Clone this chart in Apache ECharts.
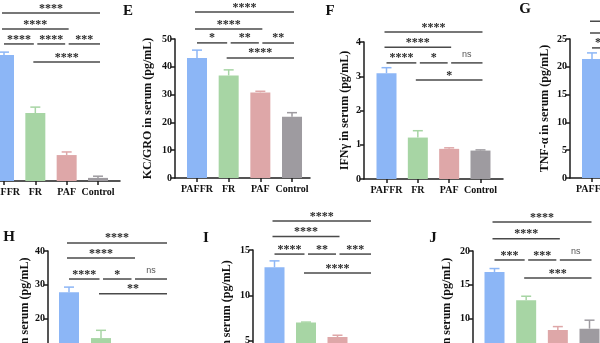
<!DOCTYPE html>
<html><head><meta charset="utf-8">
<script src="https://cdn.jsdelivr.net/npm/echarts@6/dist/echarts.min.js"></script>
<style>html,body{margin:0;padding:0;background:#fff}#c{width:600px;height:343px}</style>
</head><body><div id="c"></div>
<script>
// ---------- data ----------
const categories = ['PAFFR', 'FR', 'PAF', 'Control'];
const dMeans = [44.7, 24.1, 9.2, 1.1];
const dErrs  = [1.0, 2.1, 1.1, 0.6];
const eMeans = [43.2, 36.9, 30.8, 22.0];
const eErrs  = [2.8, 2.0, 0.4, 1.5];
const fMeans = [3.09, 1.21, 0.88, 0.83];
const fErrs  = [0.16, 0.20, 0.03, 0.02];
const gMeans = [21.4, 13.5, 9.0, 6.5];
const gErrs  = [1.1, 1.0, 0.8, 0.5];
const hMeans = [27.8, 14.2, 9.5, 6.0];
const hErrs  = [1.5, 2.3, 1.0, 0.8];
const iMeans = [13.1, 7.0, 5.4, 3.6];
const iErrs  = [0.7, 0.05, 0.2, 0.3];
const jMeans = [16.9, 12.7, 8.3, 8.5];
const jErrs  = [0.5, 0.6, 0.5, 1.25];
// comparisons: pairs of category indices, and the row each sits on (0 = top)
const bracketPairs = [[0, 3], [0, 2], [0, 1], [1, 2], [2, 3], [1, 3]];
const bracketRows  = [0, 1, 2, 2, 2, 3];
const dSig = ['****', '****', '****', '****', '***', '****'];
const eSig = ['****', '****', '*', '**', '**', '****'];
const fSig = ['****', '****', '****', '*', 'ns', '*'];
const gSig = ['****', '****', '****', '*', 'ns', '**'];
const hSig = ['****', '****', '****', '*', 'ns', '**'];
const iSig = ['****', '****', '****', '**', '***', '****'];
const jSig = ['****', '****', '***', '***', 'ns', '***'];
const yTitles = {
  D: 'IL-1β in serum (pg/mL)',
  E: 'KC/GRO in serum (pg/mL)',
  F: 'IFNγ in serum (pg/mL)',
  G: 'TNF-α in serum (pg/mL)',
  H: 'IL-1β in serum (pg/mL)',
  I: 'IL-6 in serum (pg/mL)',
  J: 'IL-10 in serum (pg/mL)'
};
const yMax = {D: 50, E: 50, F: 4, G: 25, H: 40, I: 15, J: 20};
const yStep = {D: 10, E: 10, F: 1, G: 5, H: 10, I: 5, J: 5};

// ---------- layout / style ----------
const colors = ['#8cb6f6', '#a7d5a4', '#dea7a8', '#9e9ba0'];
const SERIF = '"Liberation Serif", "Times New Roman", serif';
const layout = {
  D: {axisX: -30, axisEnd: 120, c0: 4, band: 31.33, top: 40, zero: 181, rows: [59.6, 53.9, 48.6, 42.2], gap: 20, letter: null},
  E: {axisX: 175, axisEnd: 310, c0: 197, band: 31.67, top: 39, zero: 178, rows: [59.7, 53.6, 48.6, 43.2], gap: 21, letter: [128, 11]},
  F: {axisX: 364, axisEnd: 503, c0: 386.5, band: 31.33, top: 42, zero: 179, rows: [4.29, 3.85, 3.39, 2.89], gap: 13, letter: [330, 11]},
  G: {axisX: 570, axisEnd: 705, c0: 592, band: 31.5, top: 39, zero: 178, rows: [28.2, 26.1, 23.4, 20.9], gap: 19, letter: [525, 9]},
  H: {axisX: 48, axisEnd: 178, c0: 69, band: 32, top: 251, zero: 386, rows: [42.4, 37.9, 31.7, 27.3], gap: 17, letter: [9, 237]},
  I: {axisX: 253, axisEnd: 382, c0: 274.5, band: 31.5, top: 250, zero: 386, rows: [18.2, 16.5, 14.55, 12.46], gap: 20, letter: [206, 238]},
  J: {axisX: 473, axisEnd: 602, c0: 494.5, band: 31.67, top: 251, zero: 386, rows: [24.3, 21.8, 18.67, 16.0], gap: 20, letter: [433, 238]}
};
const panelData = {
  D: [dMeans, dErrs, dSig], E: [eMeans, eErrs, eSig], F: [fMeans, fErrs, fSig],
  G: [gMeans, gErrs, gSig], H: [hMeans, hErrs, hSig], I: [iMeans, iErrs, iSig], J: [jMeans, jErrs, jSig]
};

const grid = [], xAxis = [], yAxis = [], series = [], graphic = [];
const AX = '#1c1c1c';
Object.keys(layout).forEach((key, p) => {
  const L = layout[key];
  const [means, errs, sig] = panelData[key];
  const h = L.zero - L.top;
  const gf = 2 * p, gb = 2 * p + 1;
  grid.push({left: L.axisX, top: L.top, width: L.axisEnd - L.axisX, height: h, containLabel: false, outerBoundsMode: 'none'});
  grid.push({left: L.c0 - L.band / 2, top: L.top, width: L.band * 4, height: h, containLabel: false, outerBoundsMode: 'none'});
  xAxis.push({gridIndex: gf, type: 'value', min: 0, max: 1,
    axisLine: {show: true, lineStyle: {color: AX, width: 1.5}},
    axisTick: {show: false}, axisLabel: {show: false}, splitLine: {show: false}});
  xAxis.push({gridIndex: gb, type: 'category', data: categories,
    axisLine: {show: false},
    axisTick: {show: true, alignWithLabel: true, length: 4, lineStyle: {color: AX, width: 1.5}},
    axisLabel: {fontFamily: SERIF, fontWeight: 'bold', fontSize: 10, color: '#111', margin: 6, interval: 0}});
  yAxis.push({gridIndex: gf, type: 'value', min: 0, max: yMax[key], interval: yStep[key],
    axisLine: {show: true, lineStyle: {color: AX, width: 1.5}},
    axisTick: {show: true, length: 4, lineStyle: {color: AX, width: 1.5}},
    axisLabel: {fontFamily: SERIF, fontWeight: 'bold', fontSize: 10, color: '#111', margin: 3},
    splitLine: {show: false},
    name: yTitles[key], nameLocation: 'middle', nameGap: L.gap,
    nameTextStyle: {fontFamily: SERIF, fontWeight: 'bold', fontSize: 12, color: '#111'}});
  yAxis.push({gridIndex: gb, type: 'value', min: 0, max: yMax[key], show: false});
  series.push({type: 'bar', xAxisIndex: gb, yAxisIndex: gb, barWidth: 20, silent: true,
    data: means.map((v, i) => ({value: v, itemStyle: {color: colors[i]}}))});
  series.push({type: 'custom', xAxisIndex: gb, yAxisIndex: gb, silent: true,
    data: means.map((v, i) => [i, v, errs[i]]), encode: {x: 0, y: 1},
    renderItem: (params, api) => {
      const i = api.value(0), v = api.value(1), e = api.value(2);
      const b = api.coord([i, v]), t = api.coord([i, v + e]);
      const st = {stroke: colors[i], lineWidth: 1.5};
      return {type: 'group', children: [
        {type: 'line', shape: {x1: b[0], y1: b[1], x2: t[0], y2: t[1]}, style: st},
        {type: 'line', shape: {x1: t[0] - 5, y1: t[1], x2: t[0] + 5, y2: t[1]}, style: st}
      ]};
    }});
  series.push({type: 'custom', xAxisIndex: gb, yAxisIndex: gb, silent: true, clip: false,
    data: bracketPairs.map((pr, k) => [pr[0], pr[1], L.rows[bracketRows[k]], k]), encode: {x: 0, y: 2},
    renderItem: (params, api) => {
      const i = api.value(0), j = api.value(1), lv = api.value(2), k = api.value(3);
      const a = api.coord([i, lv]), b = api.coord([j, lv]);
      let x1 = a[0] - 2, x2 = b[0] + 2;
      if (j - i === 1) { x1 = a[0] + (i === 0 ? 0 : 2); x2 = b[0] - (j === 3 ? -2 : 1.5); }
      const y = a[1];
      const lab = sig[k];
      const isNs = lab === 'ns';
      return {type: 'group', children: [
        {type: 'line', shape: {x1, y1: y, x2, y2: y}, style: {stroke: '#4a4a4a', lineWidth: 1.5}},
        {type: 'text', x: (x1 + x2) / 2, y: isNs ? y - 8 : y - 4.5,
          style: {text: lab, textAlign: 'center', textVerticalAlign: 'middle',
            font: isNs ? '9px "Liberation Sans", sans-serif' : 'bold 12px ' + SERIF,
            fill: isNs ? '#555' : '#2a2a2a'}}
      ]};
    }});
  if (L.letter) {
    graphic.push({type: 'text', x: L.letter[0], y: L.letter[1],
      style: {text: key, font: 'bold 15px ' + SERIF, fill: '#111', textAlign: 'center', textVerticalAlign: 'middle'}});
  }
});

const chart = echarts.init(document.getElementById('c'), null, {renderer: 'canvas'});
chart.setOption({animation: false, grid, xAxis, yAxis, series, graphic});
</script>
</body></html>
